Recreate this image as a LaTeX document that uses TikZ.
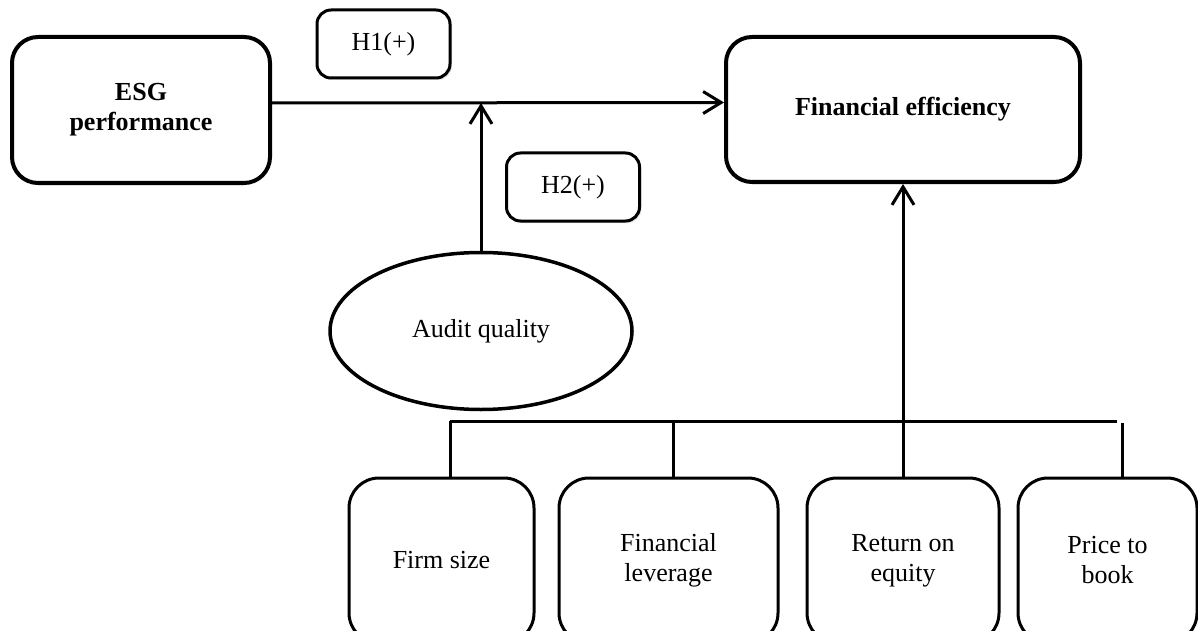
\documentclass[tikz,border=0pt]{standalone}
\usepackage{fontspec}
\setmainfont{Liberation Serif}
\usetikzlibrary{shapes.geometric,arrows.meta,shadows}

\begin{document}
\begin{tikzpicture}[x=1pt, y=-1pt,
        texto/.style={font=\fontsize{26}{30}\selectfont, align=center, inner sep=0pt},
        caixa/.style={texto, draw, rounded corners=26pt, line width=4pt},
        hipotese/.style={texto, draw, rounded corners=14pt, line width=3pt, fill=white,
            minimum width=133pt, minimum height=68pt,
            drop shadow={shadow xshift=2pt, shadow yshift=-2pt, opacity=0.2}},
        controle/.style={texto, draw, rounded corners=30pt, line width=3pt, minimum height=165pt},
        liga/.style={line width=3pt},
        seta/.style={line width=3pt, -{Straight Barb[length=18pt, width=22pt]}}]

        \useasboundingbox (0,0) rectangle (1198,631);
        \clip (0,0) rectangle (1198,631);

        % variaveis principais
        \node[caixa, minimum width=258pt, minimum height=146pt] (esg) at (141,110) {\textbf{ESG}\\\textbf{performance}};
        \node[caixa, minimum width=354pt, minimum height=145pt] (fe) at (903,109.5) {\textbf{Financial efficiency}};
        \node[texto, draw, ellipse, line width=3.5pt, minimum width=302pt, minimum height=157pt] (audit) at (481,331) {Audit quality};

        % hipoteses
        \node[hipotese] (h1) at (383.5,44) {H1(+)};
        \node[hipotese] (h2) at (573,187) {H2(+)};

        % variaveis de controle
        \node[controle, minimum width=185pt] (firm) at (441.5,560.5) {Firm size};
        \node[controle, minimum width=219pt] (lev) at (668.5,560.5) {Financial\\leverage};
        \node[controle, minimum width=192pt] (roe) at (903,560.5) {Return on\\equity};
        \node[controle, minimum width=179pt] (ptb) at (1107.5,560.5) {Price to\\book};

        \coordinate (mid) at (481,103);
        \coordinate (busL) at (450,421);
        \coordinate (busR) at (1117,421);
        \coordinate (levTop) at (673,421);
        \coordinate (ptbTop) at (1122,423);

        % setas
        \draw[seta] ([yshift=7pt]esg.east) -- ([yshift=7pt]fe.west);
        \draw[seta] (audit.north) -- (mid);
        \draw[seta] (roe.north) -- (fe.south);

        % barra dos controles
        \draw[liga] (busL) -- (busR);
        \draw[liga] (busL) -- (busL |- firm.north);
        \draw[liga] (levTop) -- (levTop |- lev.north);
        \draw[liga] (ptbTop) -- (ptbTop |- ptb.north);
    \end{tikzpicture}
\end{document}
